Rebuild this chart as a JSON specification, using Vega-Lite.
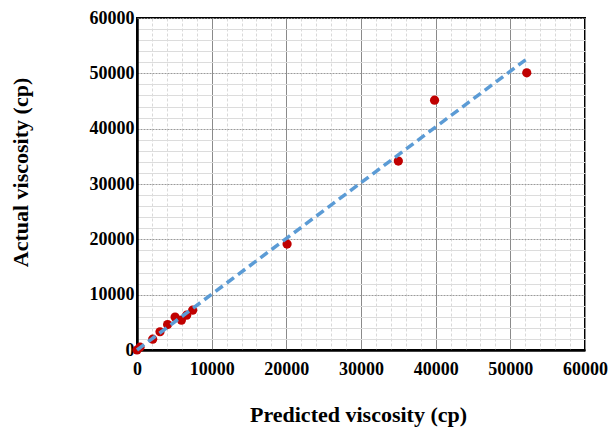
{
  "$schema": "https://vega.github.io/schema/vega-lite/v6.json",
  "autosize": "none",
  "width": 448,
  "height": 332,
  "padding": {"left": 137, "top": 18, "right": 31, "bottom": 78},
  "background": "white",
  "config": {
    "view": {"stroke": "#000", "strokeWidth": 2},
    "font": "Liberation Serif"
  },
  "datasets": {
    "pts": [
      {"pred": 0, "act": 0},
      {"pred": 400, "act": 500},
      {"pred": 2100, "act": 1950},
      {"pred": 3080, "act": 3300},
      {"pred": 4100, "act": 4600},
      {"pred": 5100, "act": 5950},
      {"pred": 5950, "act": 5400},
      {"pred": 6650, "act": 6300},
      {"pred": 7450, "act": 7200},
      {"pred": 20100, "act": 19150},
      {"pred": 35000, "act": 34150},
      {"pred": 39850, "act": 45150},
      {"pred": 52200, "act": 50100}
    ],
    "fit": [
      {"pred": 0, "act": 0},
      {"pred": 52300, "act": 52700}
    ]
  },
  "layer": [
    {
      "data": {"name": "fit"},
      "mark": {"type": "line", "color": "#5b9bd5", "strokeWidth": 3.5, "strokeDash": [9, 5], "opacity": 0},
      "encoding": {
        "x": {
          "field": "pred", "type": "quantitative",
          "scale": {"domain": [0, 60000], "nice": false, "zero": true},
          "axis": {
            "title": "Predicted viscosity (cp)",
            "titleFont": "Liberation Serif", "titleFontSize": 22, "titleFontWeight": "bold", "titleColor": "#000",
            "titleX": 221, "titleY": 71, "titleAlign": "center", "titleBaseline": "alphabetic",
            "tickCount": 31,
            "values": [0,2000,4000,6000,8000,10000,12000,14000,16000,18000,20000,22000,24000,26000,28000,30000,32000,34000,36000,38000,40000,42000,44000,46000,48000,50000,52000,54000,56000,58000,60000],
            "labelExpr": "datum.value % 10000 === 0 ? format(datum.value, 'd') : ''",
            "labelFont": "Liberation Serif", "labelFontSize": 18, "labelFontWeight": "bold", "labelColor": "#000",
            "labelPadding": 10, "labelOverlap": false, "labelFlush": false,
            "ticks": false,
            "domainColor": "#000", "domainWidth": 2.5,
            "grid": true,
            "gridColor": {"condition": {"test": "datum.value % 10000 === 0", "value": "#8a8a8a"}, "value": "#d9d9d9"},
            "gridDash": {"condition": {"test": "datum.value % 10000 === 0", "value": []}, "value": [3, 2]},
            "gridWidth": 1,
            "gridOpacity": 1
          }
        },
        "y": {
          "field": "act", "type": "quantitative",
          "scale": {"domain": [0, 60000], "nice": false, "zero": true},
          "axis": {
            "title": "Actual viscosity (cp)",
            "titleFont": "Liberation Serif", "titleFontSize": 22, "titleFontWeight": "bold", "titleColor": "#000",
            "titleX": -117, "titleY": 154, "titleAngle": 270, "titleAlign": "center", "titleBaseline": "middle",
            "tickCount": 31,
            "values": [0,2000,4000,6000,8000,10000,12000,14000,16000,18000,20000,22000,24000,26000,28000,30000,32000,34000,36000,38000,40000,42000,44000,46000,48000,50000,52000,54000,56000,58000,60000],
            "labelExpr": "datum.value % 10000 === 0 ? format(datum.value, 'd') : ''",
            "labelFont": "Liberation Serif", "labelFontSize": 18, "labelFontWeight": "bold", "labelColor": "#000",
            "labelPadding": 3, "labelOverlap": false, "labelFlush": false,
            "ticks": false,
            "domainColor": "#000", "domainWidth": 2.5,
            "grid": true,
            "gridColor": {"condition": {"test": "datum.value % 10000 === 0", "value": "#9a9a9a"}, "value": "#dcdcdc"},
            "gridDash": {"condition": {"test": "datum.value % 10000 === 0", "value": [2, 1]}, "value": []},
            "gridWidth": 1,
            "gridOpacity": 1
          }
        }
      }
    },
    {
      "data": {"name": "pts"},
      "mark": {"type": "point", "filled": true, "color": "#c00000", "size": 85, "opacity": 1, "shape": "circle"},
      "encoding": {
        "x": {"field": "pred", "type": "quantitative"},
        "y": {"field": "act", "type": "quantitative"}
      }
    },
    {
      "data": {"name": "fit"},
      "mark": {"type": "line", "color": "#5b9bd5", "strokeWidth": 3.5, "strokeDash": [9, 5]},
      "encoding": {
        "x": {"field": "pred", "type": "quantitative"},
        "y": {"field": "act", "type": "quantitative"}
      }
    }
  ]
}
